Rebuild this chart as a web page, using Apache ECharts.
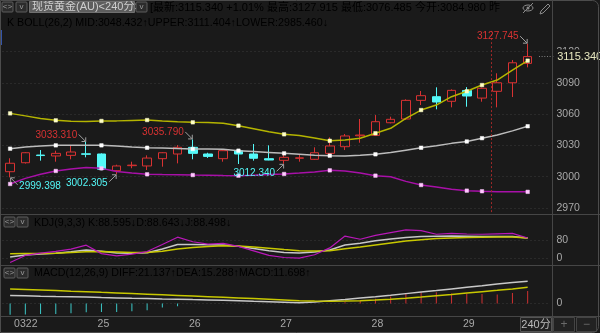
<!DOCTYPE html>
<html>
<head>
<meta charset="utf-8">
<title>现货黄金(AU) 240分</title>
<script src="https://cdn.jsdelivr.net/npm/echarts@6.0.0/dist/echarts.min.js"></script>
<style>
  html, body { margin: 0; padding: 0; background: #1a1a1a; }
  #container { width: 600px; height: 333px; }
</style>
</head>
<body>
<div id="container"></div>
<script>
// 6 bars of 240 min per trading day, the last slot is still empty
const categories = [
  '0322', '0322-2', '0322-3', '0322-4', '0322-5', '0322-6',
  '25', '25-2', '25-3', '25-4', '25-5', '25-6',
  '26', '26-2', '26-3', '26-4', '26-5', '26-6',
  '27', '27-2', '27-3', '27-4', '27-5', '27-6',
  '28', '28-2', '28-3', '28-4', '28-5', '28-6',
  '29', '29-2', '29-3', '29-4', '29-5', '29-6'
]

// [open, close, low, high]
const ohlc = [
  [3004.8, 3012.9, 2999.398, 3017.7],
  [3013.4, 3023.0, 3012.6, 3023.6],
  [3020.8, 3020.3, 3015.4, 3025.6],
  [3019.9, 3022.4, 3014.4, 3025.0],
  [3020.5, 3023.7, 3016.7, 3030.1],
  [3022.0, 3021.5, 3018.6, 3033.310],
  [3021.8, 3007.1, 3006.2, 3022.4],
  [3005.8, 3010.3, 3002.305, 3011.5],
  [3010.6, 3011.1, 3008.1, 3014.4],
  [3010.3, 3017.9, 3006.4, 3020.5],
  [3017.3, 3023.0, 3009.6, 3023.5],
  [3021.8, 3028.2, 3012.8, 3030.4],
  [3028.2, 3022.4, 3016.7, 3035.790],
  [3021.8, 3019.5, 3018.0, 3023.0],
  [3017.3, 3025.0, 3014.4, 3025.5],
  [3025.0, 3021.8, 3012.2, 3026.0],
  [3021.8, 3017.7, 3015.4, 3031.4],
  [3017.3, 3016.0, 3015.8, 3030.1],
  [3015.7, 3018.6, 3012.340, 3021.8],
  [3017.7, 3018.1, 3014.4, 3021.8],
  [3016.7, 3023.0, 3016.2, 3028.2],
  [3022.4, 3029.5, 3021.6, 3037.8],
  [3028.8, 3039.1, 3025.6, 3041.0],
  [3039.3, 3040.0, 3032.6, 3055.4],
  [3039.7, 3052.8, 3039.2, 3059.2],
  [3051.8, 3055.1, 3051.2, 3057.6],
  [3055.4, 3073.3, 3054.6, 3074.3],
  [3073.3, 3077.8, 3068.8, 3082.3],
  [3076.8, 3071.7, 3064.7, 3085.8],
  [3072.4, 3082.9, 3066.6, 3083.9],
  [3082.8, 3077.5, 3067.2, 3086.0],
  [3075.5, 3084.9, 3072.0, 3085.6],
  [3082.0, 3090.2, 3066.6, 3099.3],
  [3090.2, 3109.4, 3076.485, 3112.0],
  [3108.8, 3115.340, 3105.0, 3127.745]
]

// BOLL(26,2)
const upper = [
  3060.8, 3058.4, 3055.8, 3054.1, 3053.3, 3053.0, 3053.5, 3053.6, 3054.0, 3054.4,
  3053.5, 3052.8, 3052.2, 3052.0, 3051.3, 3049.0, 3046.1, 3043.2, 3040.7, 3039.6,
  3037.2, 3034.5, 3035.2, 3036.9, 3041.7, 3046.5, 3056.0, 3064.0, 3068.8, 3076.8,
  3082.0, 3088.0, 3092.8, 3102.4, 3111.404
]
const mid = [
  3026.9, 3028.5, 3029.5, 3030.1, 3030.2, 3030.2, 3030.1, 3029.5, 3028.6, 3027.8,
  3027.5, 3027.0, 3026.6, 3026.5, 3026.3, 3025.0, 3024.2, 3023.3, 3022.4, 3021.6,
  3020.6, 3020.2, 3019.9, 3020.5, 3021.5, 3023.2, 3025.5, 3027.8, 3029.8, 3032.0,
  3033.8, 3037.0, 3040.0, 3044.0, 3048.432
]
const lower = [
  2993.0, 2998.4, 3002.3, 3005.5, 3007.5, 3008.8, 3008.0, 3005.0, 3003.5, 3002.3,
  3002.0, 3001.8, 3001.6, 3001.5, 3001.2, 3001.0, 3001.5, 3002.0, 3002.6, 3003.5,
  3004.5, 3006.1, 3005.5, 3003.5, 3001.0, 3000.0, 2995.5, 2992.0, 2990.0, 2988.0,
  2986.6, 2986.0, 2985.6, 2985.6, 2985.460
]

// KDJ(9,3,3)
const kLine = [
  5, 14, 18, 22, 28, 36, 30, 23, 22, 24, 40, 60, 60, 59, 58, 52, 42, 33, 25, 23,
  27, 36, 58, 65, 76, 84, 91, 95, 96, 97, 96, 95, 95, 95, 88.595
]
const dLine = [
  19, 20, 20, 22, 25, 28, 29, 27, 25, 25, 30, 40, 47, 51, 54, 53, 49, 44, 38, 33,
  31, 33, 41, 49, 58, 67, 75, 81, 86, 89, 91, 92, 93, 93, 88.643
]
const jLine = [
  -19, 12, 22, 30, 40, 57, 20, 10, 18, 29, 60, 92, 72, 62, 65, 52, 32, 12, 3, 0,
  15, 45, 97, 83, 100, 112, 124, 121, 105, 109, 106, 105, 107, 109, 88.498
]

// MACD(12,26,9)
const diff = [
  7.5, 7.3, 6.9, 6.6, 6.4, 6.0, 5.5, 5.2, 4.9, 4.7, 4.3, 4.0, 3.6, 3.3, 2.9, 2.5,
  2.0, 1.6, 1.1, 0.6, 1.4, 2.6, 3.8, 5.1, 6.3, 7.7, 9.3, 10.8, 12.2, 13.8, 15.3,
  16.8, 18.4, 19.8, 21.137
]
const dea = [
  13.6, 13.2, 12.7, 12.2, 11.6, 11.1, 10.5, 10.0, 9.4, 8.8, 8.2, 7.6, 7.0, 6.4,
  5.8, 5.2, 4.6, 4.0, 3.3, 2.6, 2.2, 2.1, 2.2, 2.6, 3.2, 4.0, 5.0, 6.1, 7.3, 8.5,
  9.8, 11.1, 12.4, 13.8, 15.288
]
const macd = [
  -10.7, -10.5, -10.0, -10.0, -9.5, -8.5, -8.3, -8.3, -7.5, -6.5, -4.0, -2.7, 0, 0,
  0, 0, 0, 0, 0, 0, 0, 0, 1.0, 2.5, 4.5, 6.5, 9.0, 10.5, 10.5, 9.5, 9.5, 9.0, 8.5,
  10.0, 11.698
]

const priceTicks = [2970, 3000, 3030, 3060, 3090, 3120]
const kdjTicks = [0, 80]
const macdTicks = [0]

const bollMarkIdx = [0, 3, 6, 9, 12, 15, 18, 21, 24, 27, 30, 31, 34]
const highMarkIdx = [5, 12, 34]
const lowMarkIdx = [0, 7, 18]
const sessionBreak = 31.6

const lastPrice = 3115.340
const changePct = 1.01
const dayHigh = 3127.915
const dayLow = 3076.485
const dayOpen = 3084.980

const BG = '#1a1a1a'
const RED = '#d83232'
const CYAN = '#54f8f8'
const GREEN = '#22c022'
const YELLOW = '#e6e600'
const MAGENTA = '#e020e0'
const TXT = '#c8c8c8'
const AXIS_TXT = '#a8a8a8'
const SEP = '#464646'
const GRIDLINE = '#3a3a3a'
const FONT = '"Liberation Sans", "Noto Sans CJK SC", sans-serif'

const last = arr => arr[arr.length - 1]
const trend = arr => last(arr) >= arr[arr.length - 2] ? '{r|↑}' : '{g|↓}'
const fix3 = v => v.toFixed(3)

const withMarkers = arr => arr.map((v, i) => ({
  value: v,
  symbol: bollMarkIdx.indexOf(i) >= 0 ? 'rect' : 'none'
}))

const ARROW_DR = 'path://M0,0L10,10M10,10L10,4M10,10L4,10'
const ARROW_UR = 'path://M0,10L10,0M10,0L4,0M10,0L10,6'
const ARROW_UL = 'path://M10,10L0,0M0,0L6,0M0,0L0,6'

const extremeMarks = highMarkIdx.map(i => ({
  coord: [i, ohlc[i][3]],
  value: ohlc[i][3],
  symbol: ARROW_DR,
  symbolOffset: [-4, -4],
  label: { position: 'left', distance: 1, offset: [0, -3], color: RED }
})).concat(lowMarkIdx.map(i => ({
  coord: [i, ohlc[i][2]],
  value: ohlc[i][2],
  symbol: i === 0 ? ARROW_UL : ARROW_UR,
  symbolOffset: i === 0 ? [4, 4] : [-4, 4],
  label: { position: i === 0 ? 'right' : 'left', distance: 1, offset: [0, 5], color: CYAN }
})))

const lastMark = {
  coord: [ohlc.length - 1, last(ohlc)[1]],
  value: last(ohlc)[1],
  symbol: 'rect',
  symbolSize: 1,
  itemStyle: { color: 'transparent', borderWidth: 0 },
  label: {
    position: 'right',
    distance: 10,
    formatter: p => '{d|······}{v|' + fix3(p.value) + '}',
    rich: {
      d: { color: '#9a9a9a', fontSize: 8, fontFamily: FONT, width: 17 },
      v: { color: '#e8e8c0', fontSize: 11, fontFamily: FONT, backgroundColor: BG, padding: [2, 3, 1, 2] }
    }
  }
}

const richBase = {
  w: { color: TXT },
  r: { color: RED },
  g: { color: GREEN },
  y: { color: YELLOW },
  m: { color: MAGENTA },
  s: { color: '#bdbdbd' }
}

const iconButton = (x, y, glyph) => ({
  type: 'group',
  x: x,
  y: y,
  children: [
    { type: 'rect', shape: { x: 0, y: 0, width: 11, height: 10, r: 1 }, style: { fill: '#2c2c2c', stroke: '#5c5c5c' } },
    { type: 'text', x: 5.5, y: 5, style: { text: glyph, fill: '#9a9a9a', font: '8px ' + FONT, align: 'center', verticalAlign: 'middle' } }
  ]
})

const hline = y => ({ type: 'line', shape: { x1: 0, y1: y, x2: 600, y2: y }, style: { stroke: SEP, lineWidth: 1 } })

const myChart = echarts.init(document.getElementById('container'), null, { renderer: 'canvas' })

const yBase = {
  position: 'right',
  scale: true,
  axisLine: { show: false },
  axisTick: { show: false },
  axisLabel: { color: AXIS_TXT, fontSize: 10.5, fontFamily: FONT, margin: 6, formatter: v => String(v) },
  splitLine: { show: true, lineStyle: { color: GRIDLINE, type: [1, 3] } }
}

const xBase = {
  type: 'category',
  data: categories,
  boundaryGap: true,
  axisLine: { show: false },
  axisTick: { show: false },
  axisLabel: { show: false },
  splitLine: { show: false }
}

const legendFont = '10.7px ' + FONT

myChart.setOption({
  backgroundColor: BG,
  animation: false,
  textStyle: { fontFamily: FONT },
  grid: [
    { left: 2.5, width: 548, top: 30.9, height: 181.2, outerBoundsMode: 'none' },
    { left: 2.5, width: 548, top: 216, height: 49, outerBoundsMode: 'none' },
    { left: 2.5, width: 548, top: 266, height: 50, outerBoundsMode: 'none' }
  ],
  xAxis: [
    Object.assign({}, xBase, { gridIndex: 0 }),
    Object.assign({}, xBase, { gridIndex: 1 }),
    Object.assign({}, xBase, {
      gridIndex: 2,
      axisLabel: {
        show: true,
        interval: (i, v) => v.indexOf('-') < 0,
        color: AXIS_TXT,
        fontSize: 10.5,
        fontFamily: FONT,
        margin: 3,
        padding: [0, 0, 0, 4],
        alignMinLabel: 'left'
      }
    }),
    // plain numeric axis over the candle grid, only used for the session break line
    { type: 'value', gridIndex: 0, min: -0.5, max: categories.length - 0.5, show: false }
  ],
  yAxis: [
    Object.assign({}, yBase, {
      gridIndex: 0, min: 2966, max: 3140,
      axisLabel: Object.assign({}, yBase.axisLabel, { customValues: priceTicks }),
      axisTick: { show: false, customValues: priceTicks }
    }),
    Object.assign({}, yBase, {
      gridIndex: 1, min: -30, max: 185,
      axisLabel: Object.assign({}, yBase.axisLabel, { customValues: kdjTicks }),
      axisTick: { show: false, customValues: kdjTicks }
    }),
    Object.assign({}, yBase, {
      gridIndex: 2, min: -12, max: 35.6,
      axisLabel: Object.assign({}, yBase.axisLabel, { customValues: macdTicks }),
      axisTick: { show: false, customValues: macdTicks }
    })
  ],
  series: [
    {
      name: 'session',
      type: 'line',
      xAxisIndex: 3,
      yAxisIndex: 0,
      data: [[sessionBreak, 3000]],
      symbol: 'none',
      lineStyle: { opacity: 0 },
      silent: true,
      markLine: {
        silent: true,
        symbol: 'none',
        label: { show: false },
        lineStyle: { color: '#a02828', type: [2, 2], width: 1 },
        data: [{ xAxis: sessionBreak }]
      }
    },
    {
      name: 'UPPER', type: 'line', xAxisIndex: 0, yAxisIndex: 0,
      data: withMarkers(upper), showAllSymbol: true, symbolSize: 3.5,
      lineStyle: { color: '#b4b400', width: 1.5 },
      itemStyle: { color: '#ffffc8', borderColor: '#ffffc8', borderWidth: 0.5 }
    },
    {
      name: 'MID', type: 'line', xAxisIndex: 0, yAxisIndex: 0,
      data: withMarkers(mid), showAllSymbol: true, symbolSize: 3.5,
      lineStyle: { color: '#bcbcbc', width: 1.5 },
      itemStyle: { color: '#ffffff', borderColor: '#ffffff', borderWidth: 0.5 }
    },
    {
      name: 'LOWER', type: 'line', xAxisIndex: 0, yAxisIndex: 0,
      data: withMarkers(lower), showAllSymbol: true, symbolSize: 3.5,
      lineStyle: { color: '#a810a8', width: 1.5 },
      itemStyle: { color: '#ffc8ff', borderColor: '#ffc8ff', borderWidth: 0.5 }
    },
    {
      name: 'K',
      type: 'candlestick',
      xAxisIndex: 0,
      yAxisIndex: 0,
      data: ohlc.map(d => [d[0], d[1], d[2], d[3]]),
      barWidth: 9,
      itemStyle: {
        color: 'transparent',
        color0: CYAN,
        borderColor: RED,
        borderColor0: CYAN,
        borderWidth: 1
      },
      markPoint: {
        symbolSize: 7,
        itemStyle: { color: 'transparent', borderColor: '#a0a0a0', borderWidth: 1 },
        label: { formatter: p => fix3(p.value), fontSize: 10, fontFamily: FONT },
        data: extremeMarks.concat([lastMark])
      }
    },
    {
      name: 'KDJ-K', type: 'line', xAxisIndex: 1, yAxisIndex: 1, data: kLine,
      symbol: 'none', lineStyle: { color: '#c8c8c8', width: 1.5 }
    },
    {
      name: 'KDJ-D', type: 'line', xAxisIndex: 1, yAxisIndex: 1, data: dLine,
      symbol: 'none', lineStyle: { color: '#c8c800', width: 1.5 }
    },
    {
      name: 'KDJ-J', type: 'line', xAxisIndex: 1, yAxisIndex: 1, data: jLine,
      symbol: 'none', lineStyle: { color: '#b818b8', width: 1.2 }
    },
    {
      name: 'MACD', type: 'bar', xAxisIndex: 2, yAxisIndex: 2, data: macd,
      barWidth: 1,
      itemStyle: { color: p => p.value >= 0 ? '#d03030' : '#3cc8c8' }
    },
    {
      name: 'DIFF', type: 'line', xAxisIndex: 2, yAxisIndex: 2, data: diff,
      symbol: 'none', lineStyle: { color: '#c8c8c8', width: 1.5 }
    },
    {
      name: 'DEA', type: 'line', xAxisIndex: 2, yAxisIndex: 2, data: dea,
      symbol: 'none', lineStyle: { color: '#c8c800', width: 1.5 }
    }
  ],
  graphic: [
    // frame and panel separators
    { type: 'rect', shape: { x: 0.5, y: 0.5, width: 598, height: 332, r: [0, 6, 6, 0] }, style: { fill: 'none', stroke: '#4c4c4c' }, z: 100 },
    { type: 'line', shape: { x1: 552.5, y1: 0, x2: 552.5, y2: 333 }, style: { stroke: SEP }, z: 100 },
    hline(214.5), hline(265.5), hline(316.5),
    { type: 'rect', shape: { x: 0, y: 30, width: 2, height: 15 }, style: { fill: '#3454a8' } },

    // title row
    iconButton(2, 2, '<>'),
    iconButton(16, 2, 'v'),
    { type: 'rect', shape: { x: 29.5, y: 1.5, width: 105, height: 11 }, style: { fill: '#5e5e5e', stroke: '#707070' } },
    { type: 'text', x: 32, y: 7, style: { text: '现货黄金(AU)<240分>', fill: '#cfcfcf', font: '11px ' + FONT, verticalAlign: 'middle' } },
    iconButton(136, 2, 'v'),
    {
      type: 'text', x: 150, y: 8,
      style: {
        text: '{s|[最新:}{r|' + fix3(lastPrice) + ' +' + changePct.toFixed(2) + '%} {s|最高:}{r|' + fix3(dayHigh) +
          '} {s|最低:}{g|' + fix3(dayLow) + '} {s|今开:}{r|' + fix3(dayOpen) + '} {s|昨}',
        rich: richBase, font: '11px ' + FONT, verticalAlign: 'middle'
      }
    },
    // eye + pencil icons
    { type: 'ellipse', shape: { cx: 528, cy: 8, rx: 5, ry: 3 }, style: { fill: 'none', stroke: '#8a8a8a' } },
    { type: 'circle', shape: { cx: 528, cy: 8, r: 1.5 }, style: { fill: '#8a8a8a' } },
    { type: 'line', shape: { x1: 523, y1: 13, x2: 533, y2: 3 }, style: { stroke: '#8a8a8a' } },
    { type: 'polyline', shape: { points: [[540, 14], [541, 11], [548, 4], [550, 6], [543, 13], [540, 14]] }, style: { fill: 'none', stroke: '#8a8a8a' } },

    // BOLL legend
    {
      type: 'text', x: 7, y: 23,
      style: {
        text: '{w|K BOLL(26,2) MID:' + fix3(last(mid)) + '}' + trend(mid) +
          '{y|UPPER:' + fix3(last(upper)) + '}' + trend(upper) +
          '{m|LOWER:' + fix3(last(lower)) + '}' + trend(lower),
        rich: richBase, font: legendFont, verticalAlign: 'middle'
      }
    },

    // KDJ legend
    iconButton(4, 217, '<>'),
    iconButton(17, 217, 'v'),
    {
      type: 'text', x: 34, y: 223,
      style: {
        text: '{w|KDJ(9,3,3) K:' + fix3(last(kLine)) + '}' + trend(kLine) +
          '{y|D:' + fix3(last(dLine)) + '}' + trend(dLine) +
          '{m|J:' + fix3(last(jLine)) + '}' + trend(jLine),
        rich: richBase, font: legendFont, verticalAlign: 'middle'
      }
    },

    // MACD legend
    iconButton(4, 268, '<>'),
    iconButton(17, 268, 'v'),
    {
      type: 'text', x: 34, y: 273,
      style: {
        text: '{w|MACD(12,26,9) DIFF:' + fix3(last(diff)) + '}' + trend(diff) +
          '{y|DEA:' + fix3(last(dea)) + '}' + trend(dea) +
          '{w|MACD:' + fix3(last(macd)) + '}' + trend(macd),
        rich: richBase, font: legendFont, verticalAlign: 'middle'
      }
    },

    // bottom-right controls
    { type: 'rect', shape: { x: 520.5, y: 317.5, width: 31, height: 14 }, style: { fill: '#222', stroke: '#555' } },
    { type: 'text', x: 536, y: 325, style: { text: '240分', fill: '#bdbdbd', font: '11px ' + FONT, align: 'center', verticalAlign: 'middle' } },
    { type: 'rect', shape: { x: 553.5, y: 317.5, width: 21, height: 14 }, style: { fill: '#222', stroke: '#444' } },
    { type: 'text', x: 564, y: 324.5, style: { text: '+', fill: '#6a6a6a', font: '12px ' + FONT, align: 'center', verticalAlign: 'middle' } },
    { type: 'rect', shape: { x: 576.5, y: 317.5, width: 20, height: 14 }, style: { fill: '#222', stroke: '#444' } },
    { type: 'text', x: 586.5, y: 324.5, style: { text: '−', fill: '#6a6a6a', font: '12px ' + FONT, align: 'center', verticalAlign: 'middle' } }
  ]
})
</script>
</body>
</html>
